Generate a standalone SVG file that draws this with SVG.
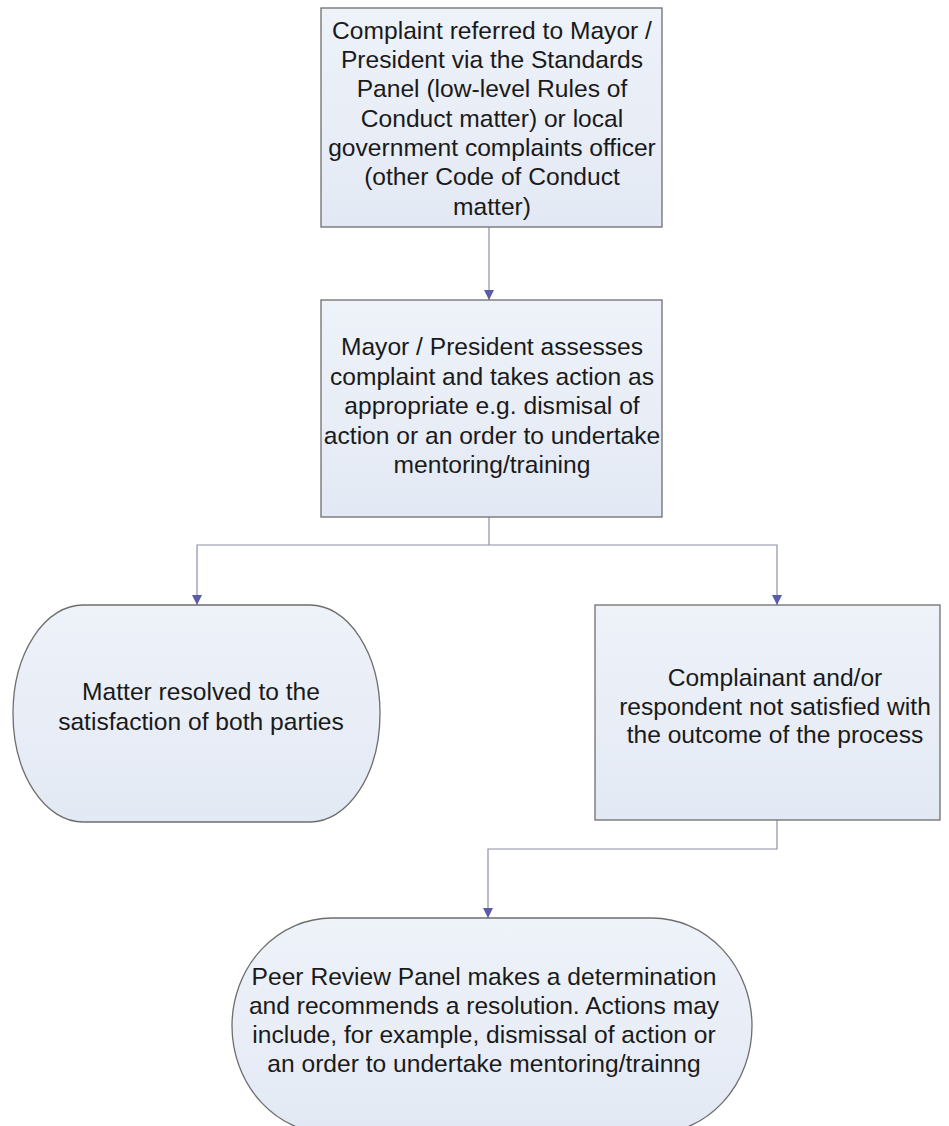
<svg xmlns="http://www.w3.org/2000/svg" width="949" height="1126" viewBox="0 0 949 1126">
<defs>
<linearGradient id="fillg" x1="0" y1="0" x2="0" y2="1">
<stop offset="0" stop-color="#eef2f9"/>
<stop offset="1" stop-color="#e3e9f4"/>
</linearGradient>
<marker id="arr" viewBox="0 0 10 10" refX="10" refY="5" markerWidth="10" markerHeight="10" markerUnits="userSpaceOnUse" orient="auto">
<path d="M0,0 L10,5 L0,10 Z" fill="#5b5ba8"/>
</marker>
<style>
.node{fill:url(#fillg);stroke:#6e6e6e;stroke-width:1.3}
.t{font-family:"Liberation Sans",Arial,sans-serif;font-size:24.6px;fill:#1a1a1a;text-anchor:middle}
.c{fill:none;stroke:#8c90aa;stroke-width:1.2}
.ca{fill:none;stroke:#8c90aa;stroke-width:1.2;marker-end:url(#arr)}
</style>
</defs>
<rect width="949" height="1126" fill="#ffffff"/>
<g id="connectors">
<path class="ca" d="M489,227 L489,300"/>
<path class="c" d="M489,517 L489,545"/>
<path class="ca" d="M489,545 L197,545 L197,605"/>
<path class="ca" d="M489,545 L777,545 L777,605"/>
<path class="ca" d="M777,820 L777,849 L488,849 L488,918"/>
</g>
<g id="n1">
<rect class="node" x="321" y="8" width="341" height="219"/>
<text class="t"><tspan x="492" y="39">Complaint referred to Mayor /</tspan><tspan x="492" y="68">President via the Standards</tspan><tspan x="492" y="97">Panel (low-level Rules of</tspan><tspan x="492" y="127">Conduct matter) or local</tspan><tspan x="492" y="156">government complaints officer</tspan><tspan x="492" y="185">(other Code of Conduct</tspan><tspan x="492" y="215">matter)</tspan></text>
</g>
<g id="n2">
<rect class="node" x="321" y="300" width="341" height="217"/>
<text class="t"><tspan x="492" y="355">Mayor / President assesses</tspan><tspan x="492" y="385">complaint and takes action as</tspan><tspan x="492" y="414">appropriate e.g. dismisal of</tspan><tspan x="492" y="444">action or an order to undertake</tspan><tspan x="492" y="473">mentoring/training</tspan></text>
</g>
<g id="n3">
<rect class="node" x="13" y="605" width="367" height="217" rx="70" ry="108.5"/>
<text class="t"><tspan x="201" y="700">Matter resolved to the</tspan><tspan x="201" y="730">satisfaction of both parties</tspan></text>
</g>
<g id="n4">
<rect class="node" x="595" y="605" width="345" height="215"/>
<text class="t"><tspan x="775" y="686">Complainant and/or</tspan><tspan x="775" y="715">respondent not satisfied with</tspan><tspan x="775" y="743">the outcome of the process</tspan></text>
</g>
<g id="n5">
<rect class="node" x="232" y="918" width="520" height="216" rx="100" ry="108"/>
<text class="t"><tspan x="484" y="985">Peer Review Panel makes a determination</tspan><tspan x="484" y="1014">and recommends a resolution. Actions may</tspan><tspan x="484" y="1043">include, for example, dismissal of action or</tspan><tspan x="484" y="1072">an order to undertake mentoring/trainng</tspan></text>
</g>
</svg>
